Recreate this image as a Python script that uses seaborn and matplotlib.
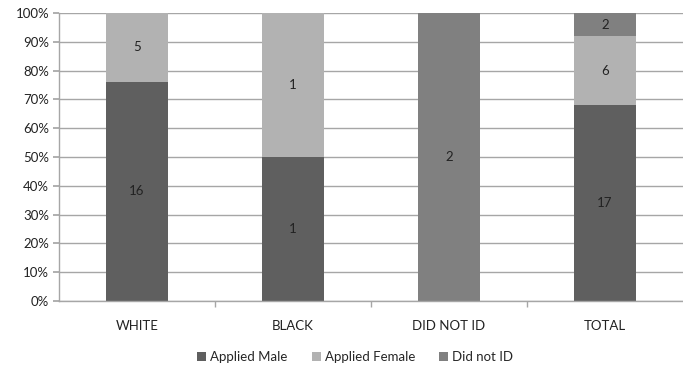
import matplotlib
matplotlib.use("Agg")
import matplotlib.pyplot as plt
import seaborn as sns
import pandas as pd
import numpy as np
from matplotlib.ticker import PercentFormatter
from matplotlib.patches import Patch

categories = ["WHITE", "BLACK", "DID NOT ID", "TOTAL"]
series_names = ["Applied Male", "Applied Female", "Did not ID"]
applied_male = [16, 1, 0, 17]
applied_female = [5, 1, 0, 6]
did_not_id = [0, 0, 2, 2]
colors = ["#5f5f5f", "#b2b2b2", "#808080"]

sns.set_theme(style="white")
plt.rcParams["font.family"] = ["Lato", "DejaVu Sans"]

counts = np.array([applied_male, applied_female, did_not_id], dtype=float)
totals = counts.sum(axis=0)
pct = counts / totals * 100
cum = np.cumsum(pct, axis=0)

fs = 9.5
fig = plt.figure(figsize=(6.83, 3.69), dpi=100)
ax = fig.add_axes([0.0864, 0.1843, 0.9136, 0.7805])

# draw cumulative layers from top to bottom
for i in reversed(range(3)):
    df = pd.DataFrame({"cat": categories, "val": cum[i]})
    sns.barplot(data=df, x="cat", y="val", color=colors[i], width=0.4,
                saturation=1, ax=ax, zorder=2, linewidth=0)

# labels
for i in range(3):
    for j in range(len(categories)):
        if counts[i, j] > 0:
            y = cum[i, j] - pct[i, j] / 2
            ax.text(j, y, f"{int(counts[i, j])}", ha="center", va="center",
                    fontsize=fs, color="#222222", zorder=3)

ax.set_xlim(-0.5, 3.5)
ax.set_ylim(0, 100)
ax.set_yticks(np.arange(0, 101, 10))
ax.yaxis.set_major_formatter(PercentFormatter(decimals=0))
ax.grid(axis="y", color="#a6a6a6", linewidth=1, zorder=0)
ax.set_axisbelow(True)
ax.set_xlabel("")
ax.set_ylabel("")
for s in ["top", "right"]:
    ax.spines[s].set_visible(False)
for s in ["left", "bottom"]:
    ax.spines[s].set_color("#a6a6a6")
    ax.spines[s].set_linewidth(1)

ax.tick_params(axis="y", which="both", left=True, length=4, color="#a6a6a6",
               labelsize=fs, labelcolor="#222222", pad=3)
ax.set_xticks([0, 1, 2, 3])
ax.set_xticklabels(categories)
ax.tick_params(axis="x", which="major", bottom=False, labelsize=fs,
               labelcolor="#222222", pad=8)
ax.set_xticks([0.5, 1.5, 2.5], minor=True)
ax.tick_params(axis="x", which="minor", bottom=True, length=4, color="#a6a6a6")

handles = [Patch(facecolor=c, edgecolor="none") for c in colors]
fig.legend(handles, series_names, loc="center", bbox_to_anchor=(0.52, 0.033),
           ncol=3, frameon=False, fontsize=fs, handlelength=0.7,
           handleheight=0.7, handletextpad=0.3, columnspacing=1.8)

fig.savefig("out.png", dpi=100)
